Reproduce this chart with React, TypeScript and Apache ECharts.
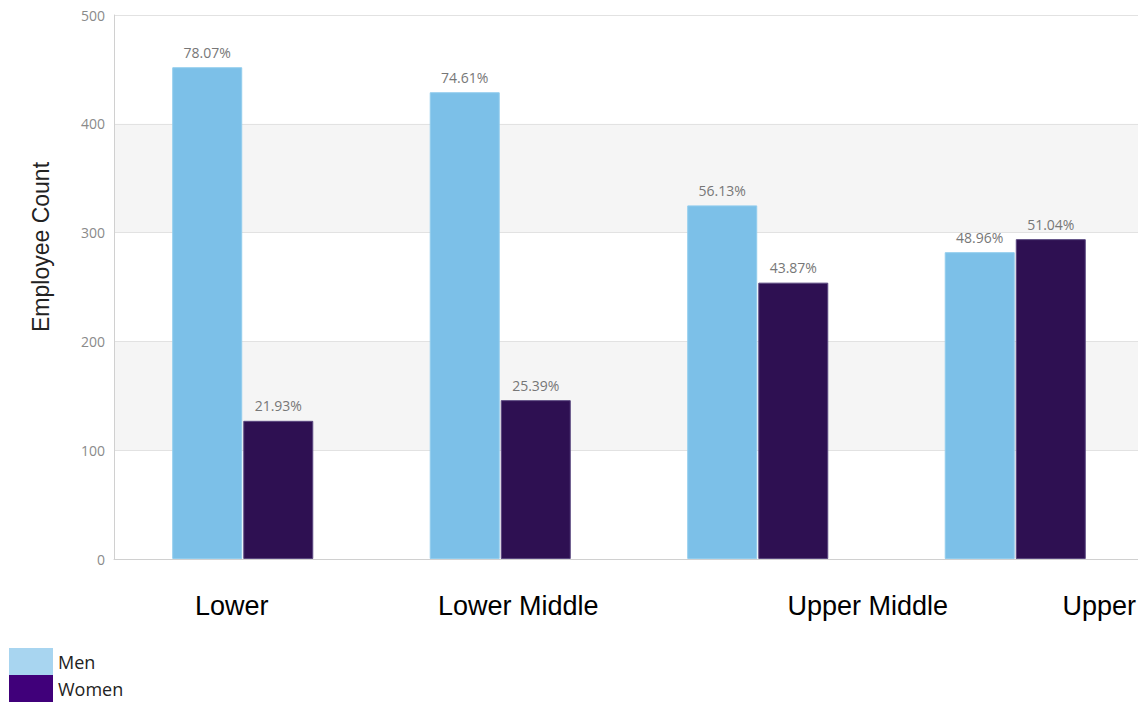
import React, { useEffect, useRef } from "react";
import * as echarts from "echarts";

const categories = ["Lower", "Lower Middle", "Upper Middle", "Upper"];
const menCounts = [452, 429, 325, 282];
const womenCounts = [127, 146, 254, 294];
const menPct = ["78.07%", "74.61%", "56.13%", "48.96%"];
const womenPct = ["21.93%", "25.39%", "43.87%", "51.04%"];
const yTicks = [0, 100, 200, 300, 400, 500];
// horizontal offsets (px) of category labels relative to the category centre, as in the reference
const labelShift = [-11, 18, 110, 84];

export default function App() {
  const ref = useRef<HTMLDivElement>(null);
  useEffect(() => {
    document.body.style.margin = "0";
    if (!ref.current) return;
    const chart = echarts.init(ref.current, undefined, { renderer: "svg" });
    const rich: Record<string, any> = {};
    labelShift.forEach((d, i) => {
      rich["c" + i] = {
        fontSize: 27,
        fontFamily: "Liberation Sans, Arial, sans-serif",
        color: "#000",
        padding: d >= 0 ? [0, 0, 0, 2 * d] : [0, -2 * d, 0, 0],
      };
    });
    chart.setOption({
      animation: false,
      backgroundColor: "#fff",
      grid: { left: 114, top: 15, right: 0, bottom: 145, containLabel: false },
      legend: {
        orient: "vertical",
        left: 9,
        bottom: 2,
        padding: 0,
        itemWidth: 44,
        itemHeight: 27,
        itemGap: 0,
        icon: "rect",
        itemStyle: { borderWidth: 0 },
        textStyle: {
          fontSize: 18,
          lineHeight: 24,
          color: "#222",
          fontFamily: "Open Sans, sans-serif",
        },
        data: [
          { name: "Men", itemStyle: { color: "#a8d5f0", borderWidth: 0 } },
          { name: "Women", itemStyle: { color: "#40007a", borderWidth: 0 } },
        ],
      },
      xAxis: {
        type: "category",
        data: categories,
        axisLine: { show: true, lineStyle: { color: "#d0d0d0", width: 1 } },
        axisTick: { show: false },
        axisLabel: {
          margin: 33,
          formatter: (v: string, i: number) => `{c${i}|${v}}`,
          rich,
        },
      },
      yAxis: {
        type: "value",
        min: yTicks[0],
        max: yTicks[yTicks.length - 1],
        interval: 100,
        name: "Employee Count",
        nameLocation: "middle",
        nameRotate: 90,
        nameGap: 62,
        nameTextStyle: {
          fontSize: 23,
          color: "#222",
          fontFamily: "Liberation Sans, Arial, sans-serif",
          padding: [0, 0, 0, 80],
        },
        axisLine: { show: true, lineStyle: { color: "#d0d0d0" } },
        axisTick: { show: false },
        axisLabel: { fontSize: 14, color: "#8a8a8a", margin: 9, fontFamily: "Open Sans, sans-serif" },
        splitLine: { show: true, lineStyle: { color: "#e2e2e2" } },
        splitArea: { show: true, areaStyle: { color: ["rgba(255,255,255,0)", "#f5f5f5"] } },
      },
      series: [
        {
          name: "Men",
          type: "bar",
          data: menCounts,
          barWidth: 70,
          barGap: "1.5%",
          itemStyle: { color: "#7cc0e8", borderColor: "#92cdee", borderWidth: 1 },
          label: {
            show: true,
            position: "top",
            distance: 8,
            fontSize: 14,
            color: "#777",
            fontFamily: "Open Sans, sans-serif",
            formatter: (p: any) => menPct[p.dataIndex],
          },
        },
        {
          name: "Women",
          type: "bar",
          data: womenCounts,
          barWidth: 70,
          itemStyle: { color: "#2e1052", borderColor: "#5a4880", borderWidth: 1 },
          label: {
            show: true,
            position: "top",
            distance: 8,
            fontSize: 14,
            color: "#777",
            fontFamily: "Open Sans, sans-serif",
            formatter: (p: any) => womenPct[p.dataIndex],
          },
        },
      ],
    });
    return () => chart.dispose();
  }, []);
  return (
    <div style={{ width: 1138, height: 704, overflow: "hidden", position: "relative" }}>
      <div ref={ref} style={{ width: 1144, height: 704 }} />
    </div>
  );
}
